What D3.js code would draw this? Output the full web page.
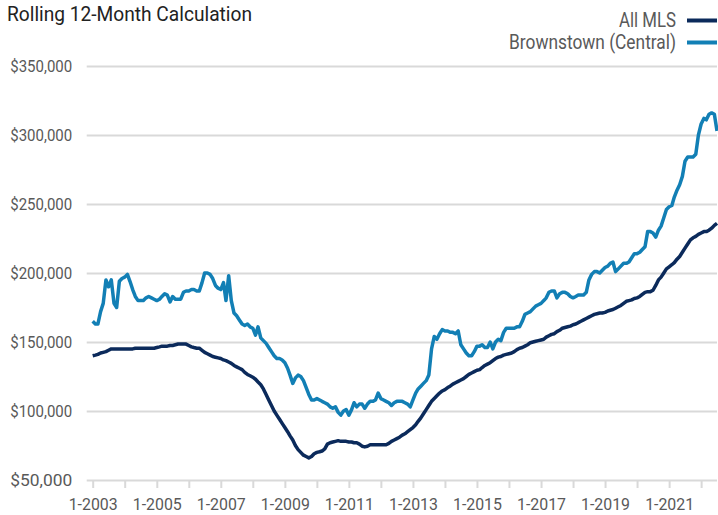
<!DOCTYPE html>
<html>
<head>
<meta charset="utf-8">
<script src="https://cdn.jsdelivr.net/npm/d3@7"></script>
<style>
  body { margin: 0; background: #fff; }
  svg { display: block; }
  text { font-family: Roboto, "Liberation Sans", sans-serif; }
  .tick text { fill: #595959; font-size: 16.5px; }
  .x-axis .tick text { font-size: 16px; }
  .tick line { stroke: #d9d9d9; stroke-width: 2; }
  .legend-label { fill: #595959; font-size: 19.5px; }
  .title { fill: #222; font-size: 21px; }
</style>
</head>
<body>
<svg width="718" height="515"></svg>
<script>
// monthly series, Jan 2003 .. Jul 2022, values in $ thousands
const startMonth = new Date(2003, 0, 1);

const allMls = [
  140, 140.5, 141, 142, 142.5, 143, 144, 145, 145, 145, 145, 145,
  145, 145, 145, 145, 145.5, 145.5, 145.5, 145.5, 145.5, 145.5, 145.5, 145.5,
  146, 146.5, 147, 147, 147, 147.5, 147.5, 148, 148.5, 148.5, 148.5, 148.5,
  147.5, 146.5, 146, 145.5, 145.5, 144, 142.5, 141.5, 140.5, 139.5, 139, 138.5,
  138, 137, 136.5, 135.5, 134.5, 133, 132, 131, 130, 128, 126.5, 125.5,
  124.5, 123, 121, 119, 116, 112, 108, 104, 100, 97, 94, 91,
  88, 85, 82, 79, 75, 72, 70, 68, 67, 66, 67, 69,
  70, 70.5, 71, 72.5, 76, 77, 77.5, 78, 78.5, 78, 78, 78,
  77.5, 77.5, 77, 77, 76, 74.5, 74, 74.5, 75.5, 75.5, 75.5, 75.5,
  75.5, 75.5, 75.5, 76.5, 78, 79, 80, 81, 82.5, 83.5, 85, 86.5,
  88, 90, 92.5, 95, 98, 101, 104, 107, 109, 111, 113, 114.5,
  115.5, 117, 118, 119.5, 120.5, 121.5, 122.5, 123.5, 125, 126.5, 127.5, 128.5,
  129.5, 130, 131.5, 133, 134, 135, 136.5, 138, 139, 139.5, 140.5, 141,
  141.5, 142, 143, 144.5, 145.5, 146, 147, 148, 149.5, 150, 150.5, 151,
  151.5, 152, 153.5, 154.5, 155.5, 156, 157.5, 158.5, 160, 160.5, 161, 161.5,
  162.5, 163, 164, 165, 166, 167, 168, 169, 170, 170.5, 171, 171,
  171.5, 172.5, 173, 173.5, 174.5, 175.5, 176.5, 178, 179.5, 180, 180.5, 181.5,
  182, 183, 184.5, 186, 186.5, 186.5, 187.5, 191, 195, 197, 200, 203,
  204.5, 206, 207.5, 210, 212, 215, 218, 221, 224, 225.5, 226.5, 228,
  229, 230, 230, 231, 232.5, 234.5, 236
];

const brownstown = [
  165, 163, 163, 172, 178, 195, 190, 195, 178, 175, 194, 196,
  197, 199, 194, 188, 183, 180, 180, 180, 182, 183, 182, 181,
  180, 181, 183, 185, 184, 179, 183, 181, 181, 181, 186, 187,
  187, 188, 188, 187, 187, 193, 200, 200, 199, 196, 191, 189,
  188, 193, 180, 198, 180, 171, 169, 166, 163, 162, 163, 161,
  160, 155, 161, 153, 151, 149, 146, 143, 140, 138, 138, 137,
  135, 131, 126, 120, 124, 126, 125, 122, 117, 112, 108, 108,
  109, 108, 107, 106, 105, 103, 102, 103, 99, 97, 100, 101,
  97, 101, 106, 103, 105, 105, 102, 105, 107, 107, 108, 113,
  109, 108, 107, 106, 104, 106, 107, 107, 107, 106, 105, 103,
  108, 113, 116, 118, 120, 122, 126, 145, 154, 152, 156, 159,
  158, 158, 157, 157, 156, 158, 148, 145, 142, 140, 140, 143,
  147, 147, 148, 146, 146, 150, 145, 150, 152, 151, 157, 160,
  160, 160, 160, 161, 161, 165, 170, 171, 172, 174, 176, 177,
  178, 180, 182, 186, 187, 187, 182, 185, 186, 186, 185, 183,
  182, 183, 184, 184, 184, 186, 195, 199, 201, 201, 200, 202,
  204, 205, 207, 208, 201, 203, 205, 207, 207, 208, 211, 214,
  214, 215, 217, 219, 230, 230, 229, 226, 231, 234, 240, 246,
  248, 249, 255, 260, 264, 270, 281, 284, 284, 284, 286, 300,
  308, 312, 311, 315, 316, 315, 303
];

const seriesNames = ['All MLS', 'Brownstown (Central)'];
const seriesColors = ['#0b2a5b', '#127fb5'];
const yTicks = [50000, 100000, 150000, 200000, 250000, 300000, 350000];
const xTickYears = [2003, 2005, 2007, 2009, 2011, 2013, 2015, 2017, 2019, 2021];

const svg = d3.select('svg');
const width = +svg.attr('width');
const height = +svg.attr('height');

const margin = {top: 66, right: 1, bottom: 35, left: 92.7};
const innerWidth = width - margin.left - margin.right;
const innerHeight = height - margin.top - margin.bottom;

// the reference uses a condensed face; squeeze text to the widths it shows
const squeeze = (sel, w) => sel.attr('textLength', w).attr('lengthAdjust', 'spacingAndGlyphs');

const toPoints = arr => arr.map((v, i) => ({date: d3.timeMonth.offset(startMonth, i), value: v * 1000}));
const series = [
  {name: seriesNames[1], color: seriesColors[1], points: toPoints(brownstown)},
  {name: seriesNames[0], color: seriesColors[0], points: toPoints(allMls)}
];

const xScale = d3.scaleTime()
  .domain([startMonth, d3.timeMonth.offset(startMonth, allMls.length - 0.5)])
  .range([0, innerWidth]);

const yScale = d3.scaleLinear()
  .domain([50000, 350000])
  .range([innerHeight, 0]);

const g = svg.append('g')
  .attr('transform', `translate(${margin.left},${margin.top})`);

// horizontal grid + y labels
const yAxis = d3.axisLeft(yScale)
  .tickValues(yTicks)
  .tickFormat(d3.format('$,'))
  .tickSize(-(innerWidth + 6))
  .tickPadding(14);

const yAxisG = g.append('g')
  .attr('transform', 'translate(-6,0)')
  .call(yAxis);
yAxisG.select('.domain').remove();
yAxisG.selectAll('.tick line').attr('x1', 0);
yAxisG.selectAll('.tick text')
  .attr('x', -14.5)
  .attr('dy', '0.36em')
  .call(squeeze, 62);

// vertical grid every year, labels every 2 years
const yearDates = d3.range(2003, 2023).map(y => new Date(y, 0, 1));
const xAxis = d3.axisBottom(xScale)
  .tickValues(yearDates)
  .tickFormat(d => xTickYears.includes(d.getFullYear()) ? '1-' + d.getFullYear() : null)
  .tickSize(-innerHeight)
  .tickPadding(10);

const xAxisG = g.append('g')
  .attr('class', 'x-axis')
  .attr('transform', `translate(0,${innerHeight})`)
  .call(xAxis);
xAxisG.select('.domain').remove();
xAxisG.selectAll('.tick line').attr('y2', 8);
xAxisG.selectAll('.tick text')
  .filter(d => !xTickYears.includes(d.getFullYear()))
  .remove();
xAxisG.selectAll('.tick text')
  .attr('y', 29.5)
  .attr('dy', null)
  .call(squeeze, 49);

const line = d3.line()
  .x(d => xScale(d.date))
  .y(d => yScale(d.value));

g.selectAll('.series').data(series)
  .enter().append('path')
    .attr('class', 'series')
    .attr('fill', 'none')
    .attr('stroke', d => d.color)
    .attr('stroke-width', 3.5)
    .attr('stroke-linejoin', 'round')
    .attr('d', d => line(d.points));

// title
svg.append('text')
  .attr('class', 'title')
  .attr('x', 7)
  .attr('y', 20.5)
  .text('Rolling 12-Month Calculation')
  .call(squeeze, 245);

// legend
const legend = svg.append('g');
const legendRows = [
  {name: seriesNames[0], color: seriesColors[0], y: 20.5, w: 57},
  {name: seriesNames[1], color: seriesColors[1], y: 42.5, w: 167}
];
legendRows.forEach(r => {
  legend.append('line')
    .attr('x1', 687).attr('x2', 717)
    .attr('y1', r.y).attr('y2', r.y)
    .attr('stroke', r.color)
    .attr('stroke-width', 4);
  legend.append('text')
    .attr('class', 'legend-label')
    .attr('x', 676)
    .attr('y', r.y + 6.5)
    .attr('text-anchor', 'end')
    .text(r.name)
    .call(squeeze, r.w);
});
</script>
</body>
</html>
